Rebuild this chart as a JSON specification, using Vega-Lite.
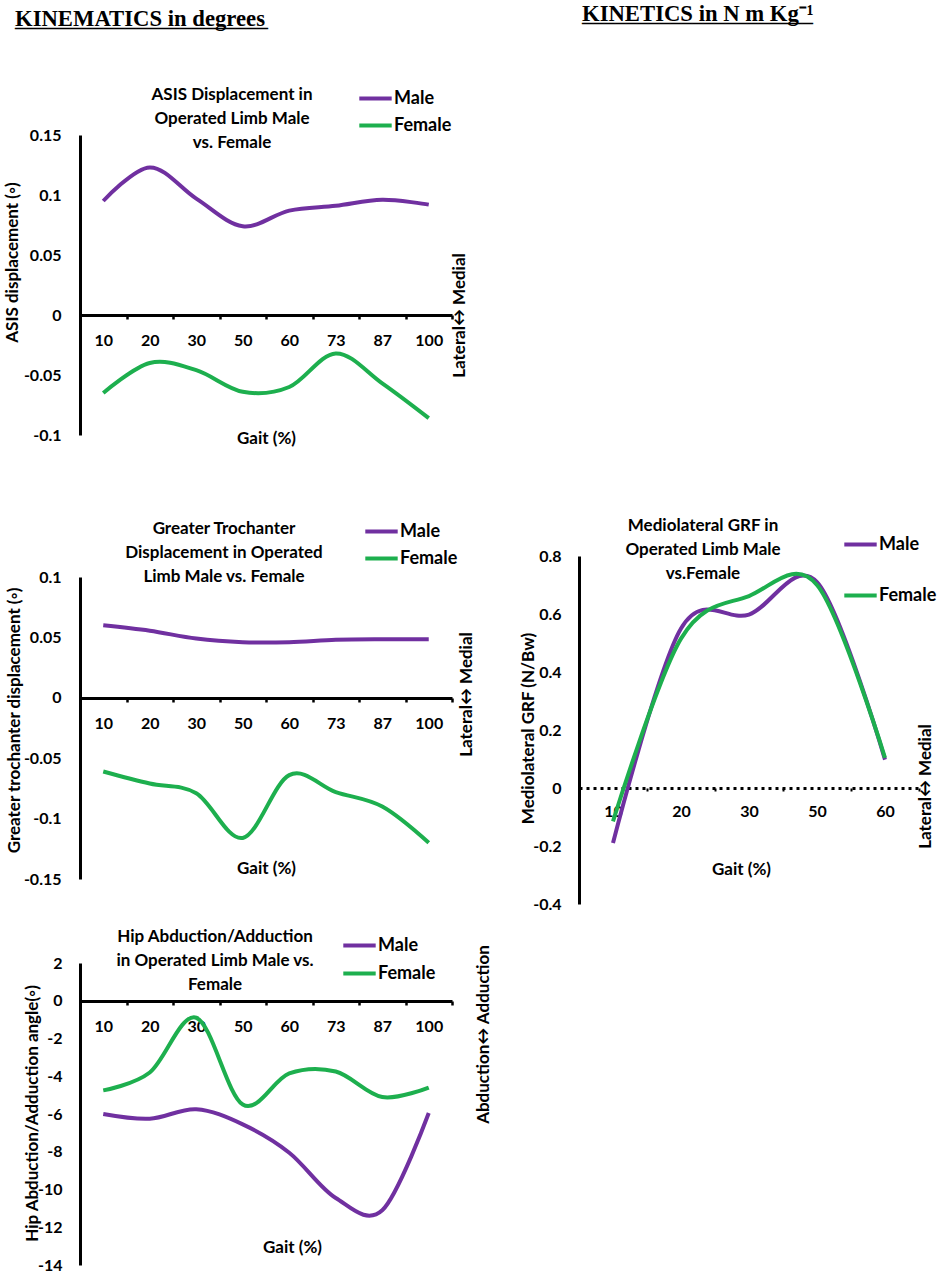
{
  "$schema": "https://vega.github.io/schema/vega-lite/v6.json",
  "background": "white",
  "padding": {"left": 3, "top": 2, "right": 5, "bottom": 5},
  "config": {
    "view": {"stroke": null},
    "font": "Lato",
    "axis": {
      "labelFont": "Lato", "labelFontSize": 16, "labelFontWeight": "bold", "labelColor": "black",
      "titleFont": "Lato", "titleFontSize": 17, "titleFontWeight": "bold", "titleColor": "black",
      "domainColor": "black", "domainWidth": 3, "tickColor": "black", "grid": false, "labelOverlap": false
    },
    "legend": {
      "title": null, "symbolType": "M-1.2,0H1.2", "symbolSize": 729, "symbolStrokeWidth": 4,
      "labelFont": "Lato", "labelFontSize": 18, "labelFontWeight": "bold", "labelColor": "black",
      "rowPadding": 2, "padding": 0, "labelOffset": 3
    },
    "title": {"font": "Lato", "fontSize": 17, "fontWeight": "bold", "color": "black", "lineHeight": 24},
    "line": {"interpolate": "cardinal", "strokeWidth": 4}
  },
  "datasets": {
    "asis": [
      {"gait": 10, "sex": "Male", "value": 0.095}, {"gait": 20, "sex": "Male", "value": 0.123},
      {"gait": 30, "sex": "Male", "value": 0.097}, {"gait": 50, "sex": "Male", "value": 0.074},
      {"gait": 60, "sex": "Male", "value": 0.087}, {"gait": 73, "sex": "Male", "value": 0.091},
      {"gait": 87, "sex": "Male", "value": 0.096}, {"gait": 100, "sex": "Male", "value": 0.092},
      {"gait": 10, "sex": "Female", "value": -0.065}, {"gait": 20, "sex": "Female", "value": -0.04},
      {"gait": 30, "sex": "Female", "value": -0.046}, {"gait": 50, "sex": "Female", "value": -0.064},
      {"gait": 60, "sex": "Female", "value": -0.06}, {"gait": 73, "sex": "Female", "value": -0.032},
      {"gait": 87, "sex": "Female", "value": -0.057}, {"gait": 100, "sex": "Female", "value": -0.086}
    ],
    "troch": [
      {"gait": 10, "sex": "Male", "value": 0.06}, {"gait": 20, "sex": "Male", "value": 0.0555},
      {"gait": 30, "sex": "Male", "value": 0.049}, {"gait": 50, "sex": "Male", "value": 0.046},
      {"gait": 60, "sex": "Male", "value": 0.046}, {"gait": 73, "sex": "Male", "value": 0.048},
      {"gait": 87, "sex": "Male", "value": 0.0485}, {"gait": 100, "sex": "Male", "value": 0.0485},
      {"gait": 10, "sex": "Female", "value": -0.061}, {"gait": 20, "sex": "Female", "value": -0.071},
      {"gait": 30, "sex": "Female", "value": -0.079}, {"gait": 50, "sex": "Female", "value": -0.116},
      {"gait": 60, "sex": "Female", "value": -0.064}, {"gait": 73, "sex": "Female", "value": -0.078},
      {"gait": 87, "sex": "Female", "value": -0.09}, {"gait": 100, "sex": "Female", "value": -0.12}
    ],
    "grf": [
      {"gait": 10, "sex": "Male", "value": -0.19}, {"gait": 20, "sex": "Male", "value": 0.55},
      {"gait": 30, "sex": "Male", "value": 0.598}, {"gait": 50, "sex": "Male", "value": 0.71},
      {"gait": 60, "sex": "Male", "value": 0.098},
      {"gait": 10, "sex": "Female", "value": -0.115}, {"gait": 20, "sex": "Female", "value": 0.515},
      {"gait": 30, "sex": "Female", "value": 0.662}, {"gait": 50, "sex": "Female", "value": 0.7},
      {"gait": 60, "sex": "Female", "value": 0.104}
    ],
    "hip": [
      {"gait": 10, "sex": "Male", "value": -6.0}, {"gait": 20, "sex": "Male", "value": -6.25},
      {"gait": 30, "sex": "Male", "value": -5.75}, {"gait": 50, "sex": "Male", "value": -6.55},
      {"gait": 60, "sex": "Male", "value": -8.05}, {"gait": 73, "sex": "Male", "value": -10.45},
      {"gait": 87, "sex": "Male", "value": -11.1}, {"gait": 100, "sex": "Male", "value": -5.95},
      {"gait": 10, "sex": "Female", "value": -4.75}, {"gait": 20, "sex": "Female", "value": -3.8},
      {"gait": 30, "sex": "Female", "value": -0.9}, {"gait": 50, "sex": "Female", "value": -5.5},
      {"gait": 60, "sex": "Female", "value": -3.85}, {"gait": 73, "sex": "Female", "value": -3.75},
      {"gait": 87, "sex": "Female", "value": -5.1}, {"gait": 100, "sex": "Female", "value": -4.6}
    ]
  },
  "spacing": 28,
  "resolve": {"scale": {"color": "independent"}, "legend": {"color": "independent"}},
  "hconcat": [
    {
      "title": {
        "text": "KINEMATICS in degrees", "subtitle": "_______________________",
        "anchor": "start", "dx": 12, "offset": 52,
        "font": "Liberation Serif", "fontSize": 22.7, "fontWeight": "bold", "lineHeight": 22,
        "subtitleFont": "Liberation Serif", "subtitleFontSize": 22, "subtitleFontWeight": "bold",
        "subtitleColor": "black", "subtitlePadding": -22
      },
      "spacing": 41,
      "resolve": {"scale": {"color": "independent"}, "legend": {"color": "independent"}},
      "vconcat": [
        {
          "spacing": 70,
          "resolve": {"scale": {"color": "independent"}, "legend": {"color": "independent"}},
          "vconcat": [
            {
              "width": 372, "height": 300,
              "data": {"name": "asis"},
              "title": {"text": ["ASIS Displacement in", "Operated Limb Male", "vs. Female"], "anchor": "middle", "dx": -34, "offset": -69},
              "layer": [
                {
                  "mark": {"type": "line"},
                  "encoding": {
                    "x": {"field": "gait", "type": "ordinal", "bandPosition": 0.5,
                      "scale": {"type": "band", "paddingInner": 0, "paddingOuter": 0},
                      "axis": {"offset": -120, "title": "Gait (%)", "titleY": 123, "titleBaseline": "middle",
                        "labelAngle": 0, "tickBand": "extent", "tickSize": 4, "tickWidth": 2.5, "labelPadding": 13}},
                    "y": {"field": "value", "type": "quantitative", "scale": {"domain": [-0.1, 0.15], "nice": false},
                      "axis": {"values": [-0.1, -0.05, 0, 0.05, 0.1, 0.15], "labelExpr": "'' + datum.value",
                        "ticks": false, "tickSize": 0, "labelPadding": 19,
                        "title": "ASIS displacement (◦)", "titleX": -63, "titleY": 127, "titleAngle": 270,
                        "titleAlign": "center", "titleBaseline": "alphabetic"}},
                    "color": {"field": "sex", "type": "nominal",
                      "scale": {"domain": ["Male", "Female"], "range": ["#7030A0", "#1DAF4E"]},
                      "legend": {"orient": "none", "legendX": 280, "legendY": -52}}
                  }
                },
                {
                  "mark": {"type": "rule", "opacity": 0},
                  "encoding": {
                    "y": {"datum": 0, "type": "quantitative",
                      "axis": {"orient": "right", "labels": false, "ticks": false, "domain": false,
                        "title": "Lateral↔ Medial", "titleAngle": 270, "titleX": 12, "titleY": 180,
                        "titleAlign": "center", "titleBaseline": "alphabetic"}}
                  }
                }
              ],
              "resolve": {"axis": {"y": "independent"}}
            },
            {
              "width": 372, "height": 302,
              "data": {"name": "troch"},
              "title": {"text": ["Greater Trochanter", "Displacement in Operated", "Limb  Male vs. Female"], "anchor": "middle", "dx": -42, "offset": -70},
              "layer": [
                {
                  "mark": {"type": "line"},
                  "encoding": {
                    "x": {"field": "gait", "type": "ordinal", "bandPosition": 0.5,
                      "scale": {"type": "band", "paddingInner": 0, "paddingOuter": 0},
                      "axis": {"offset": -181, "title": "Gait (%)", "titleY": 170, "titleBaseline": "middle",
                        "labelAngle": 0, "tickBand": "extent", "tickSize": 4, "tickWidth": 2.5, "labelPadding": 13}},
                    "y": {"field": "value", "type": "quantitative", "scale": {"domain": [-0.15, 0.1], "nice": false},
                      "axis": {"values": [-0.15, -0.1, -0.05, 0, 0.05, 0.1], "labelExpr": "'' + datum.value",
                        "ticks": false, "tickSize": 0, "labelPadding": 19,
                        "title": "Greater trochanter displacement (◦)", "titleX": -61, "titleY": 143, "titleAngle": 270,
                        "titleAlign": "center", "titleBaseline": "alphabetic"}},
                    "color": {"field": "sex", "type": "nominal",
                      "scale": {"domain": ["Male", "Female"], "range": ["#7030A0", "#1DAF4E"]},
                      "legend": {"orient": "none", "legendX": 286, "legendY": -61}}
                  }
                },
                {
                  "mark": {"type": "rule", "opacity": 0},
                  "encoding": {
                    "y": {"datum": 0, "type": "quantitative",
                      "axis": {"orient": "right", "labels": false, "ticks": false, "domain": false,
                        "title": "Lateral↔ Medial", "titleAngle": 270, "titleX": 19, "titleY": 117,
                        "titleAlign": "center", "titleBaseline": "alphabetic"}}
                  }
                }
              ],
              "resolve": {"axis": {"y": "independent"}}
            }
          ]
        },
        {
          "width": 372, "height": 302,
          "data": {"name": "hip"},
          "title": {"text": ["Hip Abduction/Adduction", "in Operated Limb  Male vs.", "Female"], "anchor": "middle", "dx": -51, "offset": -64},
          "layer": [
            {
              "mark": {"type": "line"},
              "encoding": {
                "x": {"field": "gait", "type": "ordinal", "bandPosition": 0.5,
                  "scale": {"type": "band", "paddingInner": 0, "paddingOuter": 0},
                  "axis": {"offset": -264, "title": "Gait (%)", "titleX": 212, "titleY": 246, "titleBaseline": "middle",
                    "labelAngle": 0, "tickBand": "extent", "tickSize": 4, "tickWidth": 2.5, "labelPadding": 13}},
                "y": {"field": "value", "type": "quantitative", "scale": {"domain": [-14, 2], "nice": false},
                  "axis": {"values": [-14, -12, -10, -8, -6, -4, -2, 0, 2], "labelExpr": "'' + datum.value",
                    "ticks": false, "tickSize": 0, "labelPadding": 18,
                    "title": "Hip Abduction/Adduction angle(◦)", "titleX": -43, "titleY": 150, "titleAngle": 270,
                    "titleAlign": "center", "titleBaseline": "alphabetic"}},
                "color": {"field": "sex", "type": "nominal",
                  "scale": {"domain": ["Male", "Female"], "range": ["#7030A0", "#1DAF4E"]},
                  "legend": {"orient": "none", "legendX": 264, "legendY": -33, "rowPadding": 3}}
              }
            },
            {
              "mark": {"type": "rule", "opacity": 0},
              "encoding": {
                "y": {"datum": 0, "type": "quantitative",
                  "axis": {"orient": "right", "labels": false, "ticks": false, "domain": false,
                    "title": "Abduction↔ Adduction", "titleAngle": 270, "titleX": 36, "titleY": 71,
                    "titleAlign": "center", "titleBaseline": "alphabetic"}}
              }
            }
          ],
          "resolve": {"axis": {"y": "independent"}}
        }
      ]
    },
    {
      "title": {
        "text": "KINETICS in N m Kg⁻¹", "subtitle": "_____________________",
        "anchor": "start", "dx": 63, "offset": 109,
        "font": "Liberation Serif", "fontSize": 22.7, "fontWeight": "bold", "lineHeight": 22,
        "subtitleFont": "Liberation Serif", "subtitleFontSize": 22, "subtitleFontWeight": "bold",
        "subtitleColor": "black", "subtitlePadding": -22
      },
      "spacing": 0,
      "resolve": {"scale": {"color": "independent"}, "legend": {"color": "independent"}},
      "vconcat": [
        {"width": 1, "height": 382, "data": {"values": []}, "mark": {"type": "point", "opacity": 0}, "encoding": {}},
        {
          "width": 340, "height": 348,
          "data": {"name": "grf"},
          "title": {"text": ["Mediolateral GRF in", "Operated Limb Male", "vs.Female"], "anchor": "middle", "dx": -46, "offset": -54},
          "layer": [
            {
              "mark": {"type": "line"},
              "encoding": {
                "x": {"field": "gait", "type": "ordinal", "bandPosition": 0.5,
                  "scale": {"type": "band", "paddingInner": 0, "paddingOuter": 0},
                  "axis": {"offset": -116, "title": "Gait (%)", "titleX": 162, "titleY": 81, "titleBaseline": "middle",
                    "labelAngle": 0, "tickBand": "extent", "tickSize": 3, "tickWidth": 2, "labelPadding": 12,
                    "domainDash": [3, 4], "domainWidth": 3}},
                "y": {"field": "value", "type": "quantitative", "scale": {"domain": [-0.4, 0.8], "nice": false},
                  "axis": {"values": [-0.4, -0.2, 0, 0.2, 0.4, 0.6, 0.8], "labelExpr": "'' + datum.value",
                    "ticks": false, "tickSize": 0, "labelPadding": 18,
                    "title": "Mediolateral GRF (N/Bw)", "titleX": -46, "titleY": 172, "titleAngle": 270,
                    "titleAlign": "center", "titleBaseline": "alphabetic"}},
                "color": {"field": "sex", "type": "nominal",
                  "scale": {"domain": ["Male", "Female"], "range": ["#7030A0", "#1DAF4E"]},
                  "legend": {"orient": "none", "legendX": 266, "legendY": -27, "rowPadding": 26}}
              }
            },
            {
              "mark": {"type": "rule", "opacity": 0},
              "encoding": {
                "y": {"datum": 0, "type": "quantitative",
                  "axis": {"orient": "right", "labels": false, "ticks": false, "domain": false,
                    "title": "Lateral↔ Medial", "titleAngle": 270, "titleX": 11, "titleY": 230,
                    "titleAlign": "center", "titleBaseline": "alphabetic"}}
              }
            }
          ],
          "resolve": {"axis": {"y": "independent"}}
        }
      ]
    }
  ]
}
